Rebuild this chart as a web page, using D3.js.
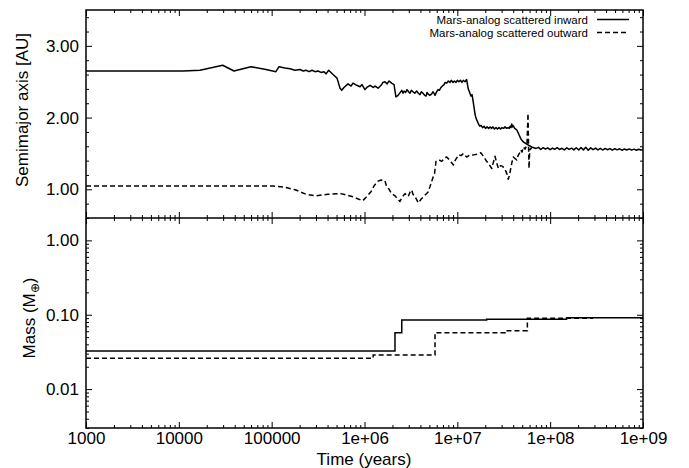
<!DOCTYPE html>
<html>
<head>
<meta charset="utf-8">
<script src="https://cdn.jsdelivr.net/npm/d3@7"></script>
<style>
  body { margin: 0; background: #fff; }
  svg { display: block; background: #fff; }
  text { font-family: "Liberation Sans", Arial, Helvetica, sans-serif; fill: #000; }
</style>
</head>
<body>
<svg id="chart" width="689" height="468"></svg>
<script>
// Semimajor axis [AU] of the Mars analog scattered inward: [time (yr), a]
const inwardAxis = [
  [1e3, 2.65], [1.11e4, 2.65], [1.69e4, 2.66], [2.97e4, 2.73], [3.93e4, 2.65], [5.98e4, 2.71],
  [8.69e4, 2.67], [1.11e5, 2.64], [1.2e5, 2.71], [1.39e5, 2.69], [1.58e5, 2.68], [1.78e5, 2.66],
  [2.02e5, 2.67], [2.18e5, 2.65], [2.35e5, 2.66], [2.53e5, 2.64], [2.72e5, 2.66], [2.93e5, 2.64],
  [3.16e5, 2.65], [3.4e5, 2.63], [3.66e5, 2.64], [3.85e5, 2.61], [4.11e5, 2.66], [4.58e5, 2.60],
  [5.06e5, 2.55], [5.45e5, 2.41], [5.69e5, 2.38], [6.01e5, 2.42], [6.64e5, 2.47], [7.16e5, 2.44],
  [7.52e5, 2.48], [8.24e5, 2.45], [8.95e5, 2.43], [9.4e5, 2.46], [1.01e6, 2.39], [1.06e6, 2.42],
  [1.15e6, 2.45], [1.24e6, 2.42], [1.30e6, 2.44], [1.40e6, 2.41], [1.51e6, 2.45], [1.58e6, 2.49],
  [1.66e6, 2.50], [1.75e6, 2.47], [1.84e6, 2.51], [1.96e6, 2.48], [2.08e6, 2.46], [2.18e6, 2.29],
  [2.30e6, 2.31], [2.52e6, 2.38], [2.6e6, 2.34], [2.67e6, 2.37], [2.77e6, 2.35], [2.87e6, 2.39],
  [2.98e6, 2.36], [3.09e6, 2.34], [3.2e6, 2.38], [3.33e6, 2.36], [3.48e6, 2.34], [3.65e6, 2.37],
  [3.8e6, 2.34], [3.96e6, 2.32], [4.1e6, 2.36], [4.27e6, 2.34], [4.45e6, 2.31], [4.6e6, 2.30],
  [4.72e6, 2.35], [4.83e6, 2.33], [5.05e6, 2.31], [5.3e6, 2.33], [5.45e6, 2.36], [5.61e6, 2.34],
  [5.75e6, 2.31], [5.89e6, 2.34], [6.05e6, 2.37], [6.19e6, 2.39], [6.4e6, 2.38], [6.67e6, 2.42],
  [6.9e6, 2.44], [7.19e6, 2.46], [7.4e6, 2.49], [7.69e6, 2.48], [8.0e6, 2.51], [8.34e6, 2.49],
  [8.6e6, 2.52], [8.98e6, 2.49], [9.3e6, 2.51], [9.68e6, 2.49], [1.0e7, 2.52], [1.04e7, 2.50],
  [1.08e7, 2.52], [1.12e7, 2.49], [1.16e7, 2.52], [1.21e7, 2.50], [1.26e7, 2.53], [1.31e7, 2.40],
  [1.35e7, 2.36], [1.40e7, 2.30], [1.44e7, 2.32], [1.49e7, 2.20], [1.55e7, 2.05], [1.59e7, 1.99],
  [1.68e7, 1.92], [1.74e7, 1.88], [1.80e7, 1.89], [1.87e7, 1.86], [1.94e7, 1.88], [2.01e7, 1.85],
  [2.09e7, 1.87], [2.17e7, 1.85], [2.25e7, 1.87], [2.33e7, 1.85], [2.42e7, 1.87], [2.51e7, 1.84],
  [2.61e7, 1.86], [2.71e7, 1.84], [2.81e7, 1.86], [2.92e7, 1.84], [3.03e7, 1.86], [3.15e7, 1.85],
  [3.27e7, 1.87], [3.4e7, 1.85], [3.52e7, 1.86], [3.62e7, 1.85], [3.70e7, 1.88], [3.78e7, 1.86],
  [3.86e7, 1.91], [3.92e7, 1.87], [3.98e7, 1.89], [4.15e7, 1.85], [4.36e7, 1.83], [4.62e7, 1.76],
  [4.85e7, 1.70], [5.14e7, 1.66], [5.59e7, 1.63], [6.33e7, 1.59], [7.04e7, 1.57], [7.5e7, 1.585],
  [7.9e7, 1.555], [8.4e7, 1.58], [8.9e7, 1.56], [9.4e7, 1.578], [1.0e8, 1.552], [1.06e8, 1.575],
  [1.12e8, 1.558], [1.19e8, 1.58], [1.26e8, 1.555], [1.34e8, 1.572], [1.42e8, 1.55], [1.51e8, 1.578],
  [1.6e8, 1.556], [1.7e8, 1.574], [1.8e8, 1.55], [1.91e8, 1.58], [2.03e8, 1.548], [2.15e8, 1.582],
  [2.28e8, 1.55], [2.42e8, 1.585], [2.57e8, 1.545], [2.73e8, 1.578], [2.9e8, 1.552], [3.08e8, 1.575],
  [3.27e8, 1.55], [3.47e8, 1.572], [3.68e8, 1.548], [3.91e8, 1.57], [4.15e8, 1.552], [4.4e8, 1.568],
  [4.67e8, 1.545], [4.96e8, 1.566], [5.27e8, 1.55], [5.59e8, 1.565], [5.93e8, 1.545], [6.3e8, 1.562],
  [6.69e8, 1.548], [7.1e8, 1.563], [7.54e8, 1.546], [8.0e8, 1.56], [8.5e8, 1.545], [9.0e8, 1.558],
  [9.5e8, 1.548], [1e9, 1.552]
];

// Semimajor axis [AU] of the Mars analog scattered outward: [time (yr), a]
const outwardAxis = [
  [1e3, 1.046], [1.03e5, 1.046], [1.39e5, 1.03], [1.83e5, 0.99], [2.35e5, 0.93], [3.01e5, 0.91],
  [4.05e5, 0.93], [5.58e5, 0.94], [7.33e5, 0.90], [9.57e5, 0.84], [1.04e6, 0.89], [1.18e6, 0.97],
  [1.27e6, 1.05], [1.38e6, 1.11], [1.51e6, 1.13], [1.66e6, 1.12], [1.73e6, 1.04], [1.84e6, 1.00],
  [1.96e6, 0.94], [2.13e6, 0.91], [2.30e6, 0.86], [2.41e6, 0.83], [2.54e6, 0.89], [2.73e6, 0.94],
  [2.96e6, 0.90], [3.09e6, 0.96], [3.22e6, 0.99], [3.33e6, 0.93], [3.50e6, 0.90], [3.80e6, 0.81],
  [4.06e6, 0.86], [4.49e6, 0.92], [4.83e6, 0.96], [5.08e6, 1.04], [5.51e6, 1.18], [5.68e6, 1.22],
  [5.89e6, 1.39], [6.35e6, 1.41], [6.79e6, 1.39], [7.19e6, 1.43], [7.69e6, 1.45], [8.20e6, 1.41],
  [8.56e6, 1.38], [9.06e6, 1.34], [9.45e6, 1.40], [1.03e7, 1.48], [1.10e7, 1.47], [1.16e7, 1.50],
  [1.26e7, 1.45], [1.37e7, 1.48], [1.49e7, 1.48], [1.63e7, 1.49], [1.79e7, 1.51], [1.89e7, 1.47],
  [2.07e7, 1.39], [2.19e7, 1.35], [2.35e7, 1.29], [2.45e7, 1.38], [2.55e7, 1.46], [2.64e7, 1.38],
  [2.77e7, 1.29], [2.92e7, 1.33], [3.08e7, 1.32], [3.22e7, 1.28], [3.34e7, 1.25], [3.45e7, 1.20],
  [3.54e7, 1.14], [3.65e7, 1.20], [3.76e7, 1.29], [3.88e7, 1.38], [4.01e7, 1.45], [4.18e7, 1.43],
  [4.36e7, 1.41], [4.51e7, 1.47], [4.66e7, 1.50], [4.82e7, 1.55], [4.98e7, 1.52], [5.14e7, 1.59],
  [5.36e7, 1.56], [5.63e7, 1.62], [5.77e7, 2.06], [5.85e7, 1.60], [5.92e7, 1.29], [6.02e7, 1.55],
  [6.33e7, 1.58]
];

// Mass [Earth masses] histories, piecewise constant between impacts: [time (yr), mass]
const inwardMass = [
  [1e3, 0.0325], [2.13e6, 0.0574], [2.52e6, 0.085], [2.07e7, 0.087], [1.5e8, 0.091], [1e9, 0.091]
];
const outwardMass = [
  [1e3, 0.026], [1.24e6, 0.0288], [5.75e6, 0.0574], [3.27e7, 0.061], [5.68e7, 0.0895], [2.9e8, 0.0895]
];

// Axis ticks and their printed labels
const timeTicks = [1e3, 1e4, 1e5, 1e6, 1e7, 1e8, 1e9];
const timeTickLabels = ["1000", "10000", "100000", "1e+06", "1e+07", "1e+08", "1e+09"];
const axisTicks = [1, 2, 3];
const axisTickLabels = ["1.00", "2.00", "3.00"];
const massTicks = [0.01, 0.1, 1];
const massTickLabels = ["0.01", "0.10", "1.00"];

const seriesNames = ["Mars-analog scattered inward", "Mars-analog scattered outward"];
const seriesDash = [null, "5,3"];

// Layout
const plotL = 86, plotR = 643, plotT = 10, plotMid = 218, plotB = 428;
const svg = d3.select("#chart");

const x = d3.scaleLog().domain([1e3, 1e9]).range([plotL, plotR]);
const yA = d3.scaleLinear().domain([0.6, 3.5]).range([plotMid, plotT]);
const yM = d3.scaleLog().domain([0.003, 2]).range([plotB, plotMid]);

const xMinor = x.ticks().filter(t => !timeTicks.includes(t));
const aMinor = yA.ticks(15).filter(t => Math.abs(t - Math.round(t)) > 1e-6);
const mMinor = yM.ticks().filter(t => !massTicks.some(m => Math.abs(m - t) < 1e-9));

// Clip paths for each panel
const defs = svg.append("defs");
defs.append("clipPath").attr("id", "clipTop").append("rect")
  .attr("x", plotL).attr("y", plotT).attr("width", plotR - plotL).attr("height", plotMid - plotT);
defs.append("clipPath").attr("id", "clipBot").append("rect")
  .attr("x", plotL).attr("y", plotMid).attr("width", plotR - plotL).attr("height", plotB - plotMid);

// Inward-pointing tick marks on all four sides of a panel
function panelTicks(yScale, y0, y1, yMajor, yMinor) {
  const g = svg.append("g").attr("class", "ticks");
  const add = (axis, tx, ty) => {
    g.append("g").attr("transform", `translate(${tx},${ty})`).call(axis)
      .call(s => s.select(".domain").remove())
      .call(s => s.selectAll("line").attr("stroke", "#000").attr("stroke-width", 1));
  };
  [[timeTicks, 6], [xMinor, 3]].forEach(([vals, size]) => {
    add(d3.axisTop(x).tickValues(vals).tickSize(size).tickFormat(""), 0, y1);
    add(d3.axisBottom(x).tickValues(vals).tickSize(size).tickFormat(""), 0, y0);
  });
  [[yMajor, 6], [yMinor, 3]].forEach(([vals, size]) => {
    add(d3.axisRight(yScale).tickValues(vals).tickSize(size).tickFormat(""), plotL, 0);
    add(d3.axisLeft(yScale).tickValues(vals).tickSize(size).tickFormat(""), plotR, 0);
  });
}
panelTicks(yA, plotT, plotMid, axisTicks, aMinor);
panelTicks(yM, plotMid, plotB, massTicks, mMinor);

// Tick labels
function labelAxis(axis, tx, ty) {
  svg.append("g").attr("transform", `translate(${tx},${ty})`)
    .call(axis)
    .call(s => s.select(".domain").remove())
    .call(s => s.selectAll("text").attr("font-size", 17).style("fill", "#000"));
}
labelAxis(d3.axisLeft(yA).tickValues(axisTicks).tickSize(0).tickPadding(7)
  .tickFormat((d, i) => axisTickLabels[i]), plotL, 0);
labelAxis(d3.axisLeft(yM).tickValues(massTicks).tickSize(0).tickPadding(7)
  .tickFormat((d, i) => massTickLabels[i]), plotL, 0);
labelAxis(d3.axisBottom(x).tickValues(timeTicks).tickSize(0).tickPadding(4)
  .tickFormat((d, i) => timeTickLabels[i]), 0, plotB);

// Data lines
const lineA = d3.line().x(d => x(d[0])).y(d => yA(d[1]));
const lineM = d3.line().curve(d3.curveStepAfter).x(d => x(d[0])).y(d => yM(d[1]));

const topG = svg.append("g").attr("clip-path", "url(#clipTop)");
[inwardAxis, outwardAxis].forEach((data, i) => {
  topG.append("path").datum(data).attr("d", lineA)
    .attr("fill", "none").attr("stroke", "#000").attr("stroke-width", 1.5)
    .attr("stroke-linejoin", "round")
    .attr("stroke-dasharray", seriesDash[i]);
});

const botG = svg.append("g").attr("clip-path", "url(#clipBot)");
[inwardMass, outwardMass].forEach((data, i) => {
  botG.append("path").datum(data).attr("d", lineM)
    .attr("fill", "none").attr("stroke", "#000").attr("stroke-width", 1.5)
    .attr("stroke-dasharray", seriesDash[i]);
});

// Panel frames
svg.append("rect").attr("x", plotL).attr("y", plotT).attr("width", plotR - plotL).attr("height", plotB - plotT)
  .attr("fill", "none").attr("stroke", "#000").attr("stroke-width", 1.5);
svg.append("line").attr("x1", plotL).attr("x2", plotR).attr("y1", plotMid).attr("y2", plotMid)
  .attr("stroke", "#000").attr("stroke-width", 1.5);

// Legend
const legend = svg.append("g");
seriesNames.forEach((name, i) => {
  const by = 23.5 + i * 13;
  legend.append("text").attr("x", 588).attr("y", by).attr("text-anchor", "end")
    .attr("font-size", 11.5).text(name);
  legend.append("line").attr("x1", 597).attr("x2", 629).attr("y1", by - 4).attr("y2", by - 4)
    .attr("stroke", "#000").attr("stroke-width", 1.5).attr("stroke-dasharray", seriesDash[i]);
});

// Axis titles
svg.append("text").attr("transform", "translate(28,110) rotate(-90)")
  .attr("text-anchor", "middle").attr("font-size", 17).text("Semimajor axis [AU]");
const massTitle = svg.append("text").attr("transform", "translate(35,318) rotate(-90)")
  .attr("text-anchor", "middle").attr("font-size", 17);
massTitle.append("tspan").text("Mass (M");
massTitle.append("tspan").attr("font-size", 12).attr("dy", 4).text("\u2295");
massTitle.append("tspan").attr("dy", -4).text(")");
svg.append("text").attr("x", 364).attr("y", 465).attr("text-anchor", "middle")
  .attr("font-size", 17).text("Time (years)");
</script>
</body>
</html>
